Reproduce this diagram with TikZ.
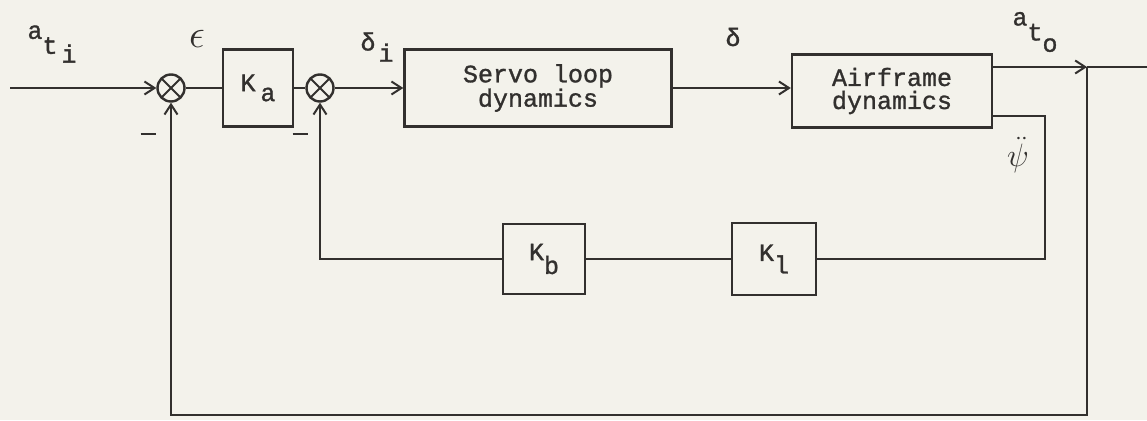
\documentclass[tikz,border=0pt]{standalone}
\usepackage{fontspec}
\setmonofont[FakeBold=1.2]{Liberation Mono}
\usetikzlibrary{arrows.meta}

\definecolor{paper}{RGB}{243,242,235}
\definecolor{ink}{RGB}{50,48,46}

% typewriter style lowered index
\newcommand{\tsub}[3][-0.5em]{#2\raisebox{#1}{#3}}

\begin{document}
\begin{tikzpicture}[x=1pt,y=-1pt,line width=2.4pt,draw=ink,
    every node/.style={text=ink,font=\ttfamily\fontsize{25}{23}\selectfont},
    block/.style={draw,inner sep=0pt,align=center},
    sumnode/.style={draw,circle,minimum size=27pt,inner sep=0pt,
      path picture={\draw[line width=2pt]
        (path picture bounding box.north west) -- (path picture bounding box.south east)
        (path picture bounding box.south west) -- (path picture bounding box.north east);}},
    arr/.style={-{Straight Barb[length=10pt,width=13pt,line width=2pt]}}]

    \fill[paper] (0,0) rectangle (1147,420);
    \useasboundingbox (0,0) rectangle (1147,420);

    % forward path
    \coordinate (in) at (10,88);
    \node [sumnode] (s1) at (171,88) {};
    \node [block, minimum width=70pt, minimum height=77pt] (ka) at (258,88) {\tsub[-0.4em]{K\kern5pt}{a}};
    \node [sumnode] (s2) at (320,88) {};
    \node [block, minimum width=267pt, minimum height=77pt] (servo) at (538,88)
      {Servo loop\\dynamics};
    \node [block, minimum width=200pt, minimum height=73pt] (air) at (892,91)
      {Airframe\\dynamics};

    % feedback gains
    \node [block, minimum width=82pt, minimum height=70pt] (kb) at (544,259) {\tsub[-0.55em]{K}{b}};
    \node [block, minimum width=84pt, minimum height=72pt] (kl) at (774,259) {\tsub[-0.5em]{K}{l}};

    % outputs and loop corners
    \coordinate (ato) at ([yshift=24pt]air.east);
    \coordinate (psi) at ([yshift=-25pt]air.east);
    \coordinate (jo) at (1087,67);
    \coordinate (out) at (1147,67);
    \coordinate (rc) at (1045,259);
    \coordinate (lc) at (320,259);
    \coordinate (bot) at (0,415);

    \draw [arr] (in) -- (s1);
    \draw (s1) -- (ka);
    \draw (ka) -- (s2);
    \draw [arr] (s2) -- (servo);
    \draw [arr] (servo.east) -- (servo.east -| air.west);
    \draw [arr] (ato) -- (jo);
    \draw (jo) -- (out);

    % outer loop
    \draw [arr] (jo) -- (jo |- bot) -| (s1.south);

    % inner loop
    \draw (psi) -| (rc) -- (kl.east);
    \draw (kl.west) -- (kb.east);
    \draw [arr] (kb.west) -- (lc) -- (s2.south);

    % signal labels
    \node (lati) at (52,44) {\tsub[-0.6em]{a}{\tsub[-0.35em]{t\kern4pt}{i}}};
    \node (leps) at (197,39) {\scalebox{1.6}{$\epsilon$}};
    \node (ldi) at (377,47) {\tsub[-0.45em]{δ\kern3pt}{i}};
    \node (ld) at (733,37) {δ};
    \node (lato) at (1035,32) {\tsub[-0.6em]{a}{\tsub[-0.45em]{t}{o}}};
    \node (lpsi) at (1018,155) {\scalebox{1.3}{$\ddot{\psi}$}};
    \node (m1) at (148,134) {\rule{15pt}{2.4pt}};
    \node (m2) at (300,134) {\rule{15pt}{2.4pt}};
\end{tikzpicture}
\end{document}
